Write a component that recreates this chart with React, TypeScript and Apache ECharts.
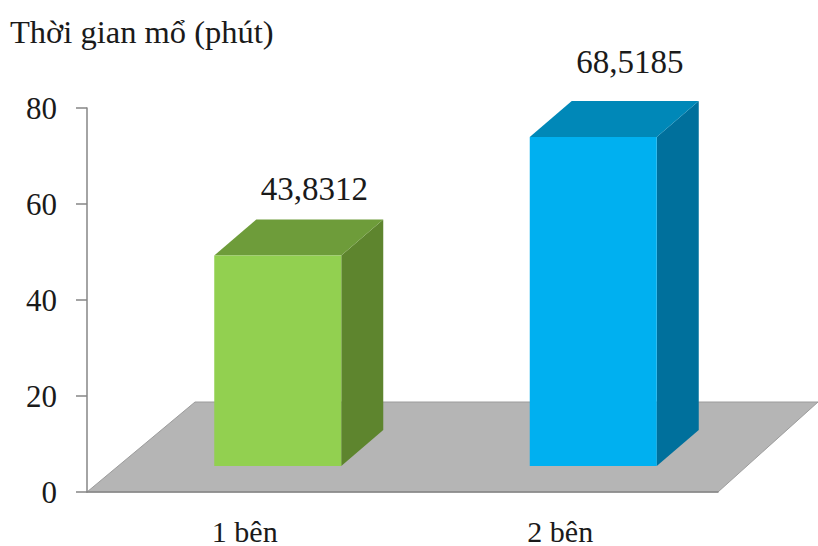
import React, { useEffect, useRef } from "react";
import * as echarts from "echarts";

const categories = ["1 bên", "2 bên"];
const surgeryMinutes = [43.8312, 68.5185];
const yTicks = { min: 0, max: 80, interval: 20 };
const axisTitle = "Thời gian mổ (phút)";

// Front, top and side shades of each box.
const palette = [
  { front: "#92D050", top: "#6E9C3A", side: "#5E852E" },
  { front: "#00B0F0", top: "#0088B8", side: "#00709C" },
];

const serif = '"Liberation Serif", "Times New Roman", serif';
const textColor = "#1a1a1a";
const axisColor = "#868686";

// Pseudo-3D geometry, in pixels.
const BOX_WIDTH = 127;
const BOX_SHIFT_X = 33;
const BOX_LIFT = 26;
const DEPTH_X = 42;
const DEPTH_Y = 36;
const LABEL_SHIFT_X = 36.5;
const LABEL_LIFT = [31, 39];

const FLOOR_LEFT_DX = 108;
const FLOOR_RIGHT_DX = 100;
const FLOOR_DY = 90;

function renderFloor(params: any, api: any) {
  const base = api.coord([0, 0]);
  const sys = params.coordSys;
  const y = base[1];
  const l = sys.x;
  const r = sys.x + sys.width;
  return {
    type: "polygon",
    shape: {
      points: [
        [l, y],
        [l + FLOOR_LEFT_DX, y - FLOOR_DY],
        [r + FLOOR_RIGHT_DX, y - FLOOR_DY],
        [r, y],
      ],
    },
    style: { fill: "#B5B5B5", stroke: "#9C9C9C", lineWidth: 1 },
  };
}

function renderBox(params: any, api: any) {
  const idx = api.value(0);
  const val = api.value(1);
  const top = api.coord([idx, val]);
  const base = api.coord([idx, 0]);
  const x0 = top[0] + BOX_SHIFT_X - BOX_WIDTH / 2;
  const x1 = x0 + BOX_WIDTH;
  const yTop = top[1] - BOX_LIFT;
  const yBot = base[1] - BOX_LIFT;
  const c = palette[params.dataIndex];
  return {
    type: "group",
    children: [
      {
        type: "polygon",
        shape: { points: [[x1, yTop], [x1 + DEPTH_X, yTop - DEPTH_Y], [x1 + DEPTH_X, yBot - DEPTH_Y], [x1, yBot]] },
        style: { fill: c.side },
      },
      {
        type: "polygon",
        shape: { points: [[x0, yTop], [x0 + DEPTH_X, yTop - DEPTH_Y], [x1 + DEPTH_X, yTop - DEPTH_Y], [x1, yTop]] },
        style: { fill: c.top },
      },
      {
        type: "polygon",
        shape: { points: [[x0, yTop], [x1, yTop], [x1, yBot], [x0, yBot]] },
        style: { fill: c.front },
      },
      {
        type: "text",
        style: {
          x: top[0] + BOX_SHIFT_X + LABEL_SHIFT_X,
          y: yTop - DEPTH_Y - LABEL_LIFT[params.dataIndex],
          text: String(surgeryMinutes[params.dataIndex]).replace(".", ","),
          fontFamily: serif,
          fontSize: 33,
          fill: textColor,
          align: "center",
          verticalAlign: "middle",
        },
      },
    ],
  };
}

export default function App() {
  const ref = useRef<HTMLDivElement>(null);

  useEffect(() => {
    const chart = echarts.init(ref.current!, undefined, { renderer: "svg" });
    chart.setOption({
      animation: false,
      backgroundColor: "#ffffff",
      title: {
        text: axisTitle,
        left: 10,
        top: 15,
        padding: 0,
        textStyle: { fontFamily: serif, fontSize: 32.5, fontWeight: "normal", color: textColor },
      },
      grid: { left: 87, right: 100, top: 108, bottom: 54, outerBoundsMode: "none" },
      xAxis: {
        type: "category",
        data: categories,
        axisLine: { show: true, lineStyle: { color: axisColor, width: 1.5 } },
        axisTick: { show: false },
        axisLabel: { margin: 24, lineHeight: 30, fontFamily: serif, fontSize: 30, color: textColor },
      },
      yAxis: {
        type: "value",
        min: yTicks.min,
        max: yTicks.max,
        interval: yTicks.interval,
        splitLine: { show: false },
        axisLine: { show: true, lineStyle: { color: axisColor, width: 1.5 } },
        axisTick: { show: true, length: 11, lineStyle: { color: axisColor, width: 1.5 } },
        axisLabel: { margin: 30, padding: [3, 0, 0, 0], fontFamily: serif, fontSize: 31, color: textColor },
      },
      series: [
        {
          type: "custom",
          name: "floor",
          z: -1,
          silent: true,
          renderItem: renderFloor,
          data: [[0, 0]],
        },
        {
          type: "custom",
          name: "boxes",
          z: 3,
          renderItem: renderBox,
          encode: { x: 0, y: 1 },
          data: surgeryMinutes.map((v, i) => [i, v]),
        },
      ],
    });
    return () => chart.dispose();
  }, []);

  return <div ref={ref} style={{ position: "fixed", left: 0, top: 0, width: 818, height: 546 }} />;
}
